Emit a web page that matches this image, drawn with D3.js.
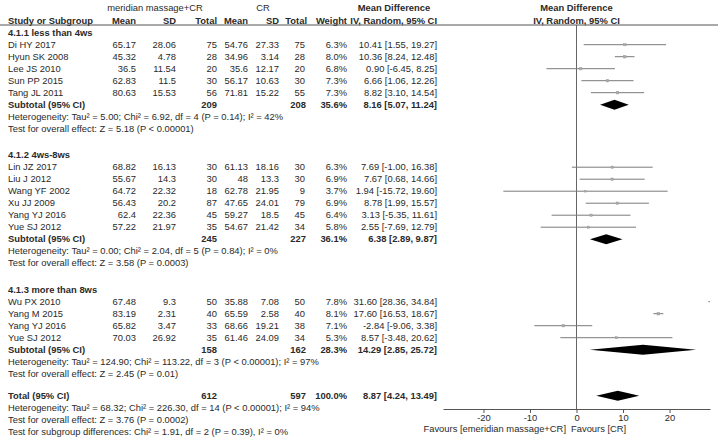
<!DOCTYPE html>
<html>
<head>
<meta charset="utf-8">
<script src="https://cdn.jsdelivr.net/npm/d3@7"></script>
<style>
  body { margin: 0; background: #fff; }
  svg text { font-family: Arial, "Liberation Sans", sans-serif; font-size: 9.4px; fill: #2a2a2a; }
  .b { font-weight: bold; }
</style>
</head>
<body>
<svg class="forest"></svg>
<script>
"use strict";

var width  = 718,
    height = 440;

// study data
var studies   = ["Di HY 2017", "Hyun SK 2008", "Lee JS 2010", "Sun PP 2015", "Tang JL 2011",
                 "Lin JZ 2017", "Liu J 2012", "Wang YF 2002", "Xu JJ 2009", "Yang YJ 2016", "Yue SJ 2012",
                 "Wu PX 2010", "Yang M 2015", "Yang YJ 2016", "Yue SJ 2012"];
var groupOf   = [0, 0, 0, 0, 0, 1, 1, 1, 1, 1, 1, 2, 2, 2, 2];
var expMean   = [65.17, 45.32, 36.5, 62.83, 80.63, 68.82, 55.67, 64.72, 56.43, 62.4, 57.22, 67.48, 83.19, 65.82, 70.03];
var expSD     = [28.06, 4.78, 11.54, 11.5, 15.53, 16.13, 14.3, 22.32, 20.2, 22.36, 21.97, 9.3, 2.31, 3.47, 26.92];
var expN      = [75, 28, 20, 30, 56, 30, 30, 18, 87, 45, 35, 50, 40, 33, 35];
var ctlMean   = [54.76, 34.96, 35.6, 56.17, 71.81, 61.13, 48, 62.78, 47.65, 59.27, 54.67, 35.88, 65.59, 68.66, 61.46];
var ctlSD     = [27.33, 3.14, 12.17, 10.63, 15.22, 18.16, 13.3, 21.95, 24.01, 18.5, 21.42, 7.08, 2.58, 19.21, 24.09];
var ctlN      = [75, 28, 20, 30, 55, 30, 30, 9, 79, 45, 34, 50, 40, 38, 34];
var weight    = [6.3, 8.0, 6.8, 7.3, 7.3, 6.3, 6.9, 3.7, 6.9, 6.4, 5.8, 7.8, 8.1, 7.1, 5.3];
var md        = [10.41, 10.36, 0.90, 6.66, 8.82, 7.69, 7.67, 1.94, 8.78, 3.13, 2.55, 31.60, 17.60, -2.84, 8.57];
var mdLow     = [1.55, 8.24, -6.45, 1.06, 3.10, -1.00, 0.68, -15.72, 1.99, -5.35, -7.69, 28.36, 16.53, -9.06, -3.48];
var mdHigh    = [19.27, 12.48, 8.25, 12.26, 14.54, 16.38, 14.66, 19.60, 15.57, 11.61, 12.79, 34.84, 18.67, 3.38, 20.62];

// subgroup summaries
var groupNames   = ["4.1.1 less than 4ws", "4.1.2 4ws-8ws", "4.1.3 more than 8ws"];
var groupExpN    = [209, 245, 158];
var groupCtlN    = [208, 227, 162];
var groupWeight  = [35.6, 36.1, 28.3];
var groupMD      = [8.16, 6.38, 14.29];
var groupLow     = [5.07, 2.89, 2.85];
var groupHigh    = [11.24, 9.87, 25.72];
var groupHet     = ["Heterogeneity: Tau\u00b2 = 5.00; Chi\u00b2 = 6.92, df = 4 (P = 0.14); I\u00b2 = 42%",
                    "Heterogeneity: Tau\u00b2 = 0.00; Chi\u00b2 = 2.04, df = 5 (P = 0.84); I\u00b2 = 0%",
                    "Heterogeneity: Tau\u00b2 = 124.90; Chi\u00b2 = 113.22, df = 3 (P < 0.00001); I\u00b2 = 97%"];
var groupTest    = ["Test for overall effect: Z = 5.18 (P < 0.00001)",
                    "Test for overall effect: Z = 3.58 (P = 0.0003)",
                    "Test for overall effect: Z = 2.45 (P = 0.01)"];

// overall
var totalExpN = 612, totalCtlN = 597, totalWeight = 100.0;
var totalMD = 8.87, totalLow = 4.24, totalHigh = 13.49;
var totalNotes = ["Heterogeneity: Tau\u00b2 = 68.32; Chi\u00b2 = 226.30, df = 14 (P < 0.00001); I\u00b2 = 94%",
                  "Test for overall effect: Z = 3.76 (P = 0.0002)",
                  "Test for subgroup differences: Chi\u00b2 = 1.91, df = 2 (P = 0.39), I\u00b2 = 0%"];

var axisTicks = [-20, -10, 0, 10, 20];
var favourLeft = "Favours [emeridian massage+CR]",
    favourRight = "Favours [CR]";


// Setup
var chart = d3.select(".forest")
              .attr("width", width)
              .attr("height", height);

// column anchors (right edges unless noted)
var col = {name: 8, eMean: 136, eSD: 176, eN: 217, cMean: 248, cSD: 279, cN: 305, w: 347, ci: 437};

var x = d3.scaleLinear()
          .domain([-28.7, 28.7])
          .range([443, 710]);

var rowStep = 12, groupGap = 26.5, totalGap = 22;

// build row list
var rows = [];
var y = 32.7;
groupNames.forEach(function(g, gi) {
    if (gi > 0) y += groupGap;
    rows.push({type: "header", y: y, label: g});
    studies.forEach(function(s, i) {
        if (groupOf[i] !== gi) return;
        y += rowStep;
        rows.push({type: "study", y: y, i: i});
    });
    y += rowStep;
    rows.push({type: "sub", y: y, g: gi});
    y += rowStep;
    rows.push({type: "note", y: y, label: groupHet[gi]});
    y += rowStep;
    rows.push({type: "note", y: y, label: groupTest[gi]});
});
y += totalGap;
rows.push({type: "total", y: y});
totalNotes.forEach(function(t) {
    y += rowStep;
    rows.push({type: "note", y: y, label: t});
});

function addText(sel, txt, px, py, anchor, bold) {
    return sel.append("text")
              .attr("x", px)
              .attr("y", py)
              .attr("dy", ".35em")
              .attr("text-anchor", anchor || "end")
              .attr("class", bold ? "b" : null)
              .text(txt);
}

function ciText(m, l, h) {
    return m.toFixed(2) + " [" + l.toFixed(2) + ", " + h.toFixed(2) + "]";
}

// header
var head = chart.append("g").attr("class", "head");
addText(head, "meridian massage+CR", 155, 7.5, "middle");
addText(head, "CR", 263, 7.5, "middle");
addText(head, "Mean Difference", 394, 7.5, "middle", true);
addText(head, "Mean Difference", x(0), 7.5, "middle", true);
addText(head, "Study or Subgroup", col.name, 20.5, "start", true);
addText(head, "Mean", col.eMean, 20.5, "end", true);
addText(head, "SD", col.eSD, 20.5, "end", true);
addText(head, "Total", col.eN, 20.5, "end", true);
addText(head, "Mean", col.cMean, 20.5, "end", true);
addText(head, "SD", col.cSD, 20.5, "end", true);
addText(head, "Total", col.cN + 2, 20.5, "end", true);
addText(head, "Weight", col.w, 20.5, "end", true);
addText(head, "IV, Random, 95% CI", col.ci, 20.5, "end", true);
addText(head, "IV, Random, 95% CI", x(0), 20.5, "middle", true);
head.append("line")
    .attr("x1", 0).attr("x2", width)
    .attr("y1", 25).attr("y2", 25)
    .style("stroke", "#555").style("stroke-width", 1);

// zero line
chart.append("line")
     .attr("x1", x(0)).attr("x2", x(0))
     .attr("y1", 25).attr("y2", 409)
     .style("stroke", "#666").style("stroke-width", 1);

var body = chart.append("g").attr("class", "rows");
var sqSize = d3.scaleSqrt().domain([0, 10]).range([0, 3]);

rows.forEach(function(r) {
    if (r.type === "header") {
        addText(body, r.label, col.name, r.y, "start", true);
    } else if (r.type === "note") {
        addText(body, r.label, col.name, r.y, "start");
    } else if (r.type === "study") {
        var i = r.i;
        addText(body, studies[i], col.name, r.y, "start");
        addText(body, String(expMean[i]), col.eMean, r.y);
        addText(body, String(expSD[i]), col.eSD, r.y);
        addText(body, String(expN[i]), col.eN, r.y);
        addText(body, String(ctlMean[i]), col.cMean, r.y);
        addText(body, String(ctlSD[i]), col.cSD, r.y);
        addText(body, String(ctlN[i]), col.cN, r.y);
        addText(body, weight[i].toFixed(1) + "%", col.w, r.y);
        addText(body, ciText(md[i], mdLow[i], mdHigh[i]), col.ci, r.y);

        var d = x.domain();
        if (mdLow[i] > d[1]) {
            // off scale to the right: arrow
            var ax = x(d[1]);
            body.append("path")
                .attr("d", "M" + (ax - 4) + "," + (r.y - 3) + "L" + ax + "," + r.y + "L" + (ax - 4) + "," + (r.y + 3) + "Z")
                .style("fill", "#111");
        } else {
            body.append("line")
                .attr("x1", x(Math.max(mdLow[i], d[0])))
                .attr("x2", x(Math.min(mdHigh[i], d[1])))
                .attr("y1", r.y).attr("y2", r.y)
                .style("stroke", "#7a7a7a").style("stroke-width", 1);
            var s = sqSize(weight[i]);
            body.append("rect")
                .attr("x", x(md[i]) - s / 2)
                .attr("y", r.y - s / 2)
                .attr("width", s).attr("height", s)
                .style("fill", "#aaa").style("stroke", "#999").style("stroke-width", 0.4);
        }
    } else if (r.type === "sub" || r.type === "total") {
        var isSub = r.type === "sub";
        var g = r.g;
        addText(body, isSub ? "Subtotal (95% CI)" : "Total (95% CI)", col.name, r.y, "start", true);
        addText(body, String(isSub ? groupExpN[g] : totalExpN), col.eN, r.y, "end", true);
        addText(body, String(isSub ? groupCtlN[g] : totalCtlN), col.cN + 1, r.y, "end", true);
        addText(body, (isSub ? groupWeight[g] : totalWeight).toFixed(1) + "%", col.w, r.y, "end", true);
        var m = isSub ? groupMD[g] : totalMD,
            lo = isSub ? groupLow[g] : totalLow,
            hi = isSub ? groupHigh[g] : totalHigh;
        addText(body, ciText(m, lo, hi), col.ci, r.y, "end", true);
        var hh = 5;
        body.append("path")
            .attr("d", "M" + x(lo) + "," + r.y + "L" + x(m) + "," + (r.y - hh) +
                       "L" + x(hi) + "," + r.y + "L" + x(m) + "," + (r.y + hh) + "Z")
            .style("fill", "#000");
    }
});

// axis
var axis = chart.append("g")
                .attr("class", "axis")
                .attr("transform", "translate(0, 409)")
                .call(d3.axisBottom(x).tickValues(axisTicks).tickSize(4).tickSizeOuter(0)
                        .tickFormat(function(t) { return String(t); }));
axis.select(".domain").style("stroke", "#555");
axis.selectAll(".tick line").style("stroke", "#555");
axis.selectAll(".tick text")
    .attr("y", 5)
    .style("font-family", "Arial, 'Liberation Sans', sans-serif")
    .style("font-size", "9.4px")
    .style("fill", "#2a2a2a");

addText(chart, favourLeft, 566, 428.5, "end");
addText(chart, favourRight, 571, 428.5, "start");
</script>
</body>
</html>
